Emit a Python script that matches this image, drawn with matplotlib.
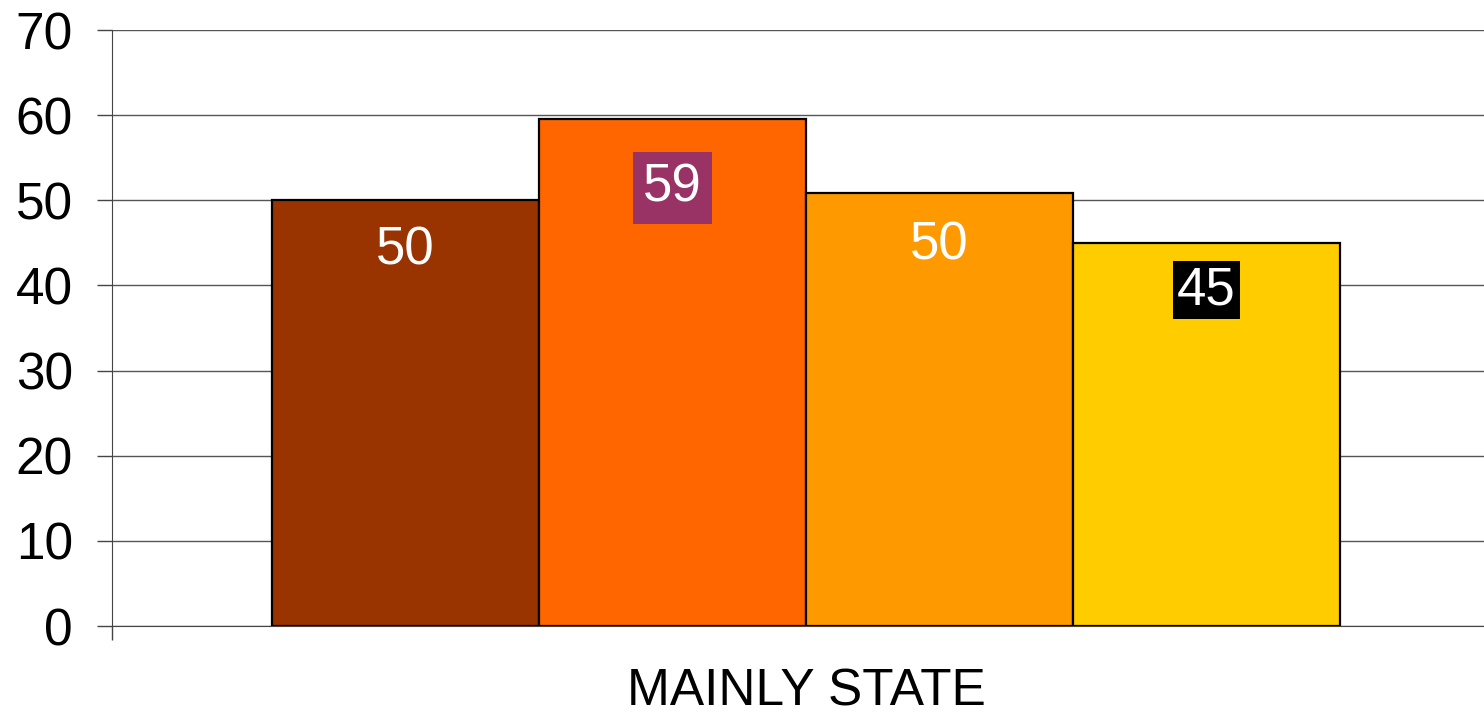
import matplotlib.pyplot as plt

plt.rcParams['font.family'] = ['Liberation Sans', 'DejaVu Sans']

category = 'MAINLY STATE'
values = [50.0, 59.6, 50.9, 45.0]
colors = ['#993300', '#FF6600', '#FF9900', '#FFCC00']
label_boxes = [None, '#993366', None, 'black']
box_pads = [0, 0.2, 0, 0.08]
label_offsets = [-36, -50, -38, -34]

fig = plt.figure(figsize=(14.84, 7.18), dpi=100)
ax = fig.add_axes([112 / 1484, 1 - 626 / 718, 1388 / 1484, 596 / 718])

w = 0.1924
xs = [(i - 1.5) * w for i in range(len(values))]
bars = ax.bar(xs, values, width=w, color=colors, edgecolor='black', linewidth=1.6, zorder=3)

for x, v, box, pad, dy in zip(xs, values, label_boxes, box_pads, label_offsets):
    bbox = None
    if box is not None:
        bbox = dict(boxstyle=f'square,pad={pad}', facecolor=box, edgecolor='none')
    ax.annotate(f'{int(v)}', (x, v), xytext=(0, dy), textcoords='offset points',
                ha='center', va='center', fontsize=38, color='white', bbox=bbox, zorder=4)

ax.set_xlim(-0.5, 0.5)
ax.set_ylim(0, 70)
ax.set_yticks(range(0, 71, 10))
ax.tick_params(axis='y', labelsize=37, length=11, width=1, pad=17, color='#444444')
ax.set_xticks([0], labels=[category])
ax.set_xticks([-0.5, 0.5], minor=True)
ax.tick_params(axis='x', which='major', length=0, labelsize=37, pad=30)
ax.tick_params(axis='x', which='minor', length=10, width=1, color='#444444')

ax.grid(axis='y', color='#555555', linewidth=1)
ax.set_axisbelow(True)
for side in ['top', 'right']:
    ax.spines[side].set_visible(False)
ax.spines['left'].set_color('#444444')
ax.spines['bottom'].set_color('#444444')

fig.savefig('out.png', dpi=100)
